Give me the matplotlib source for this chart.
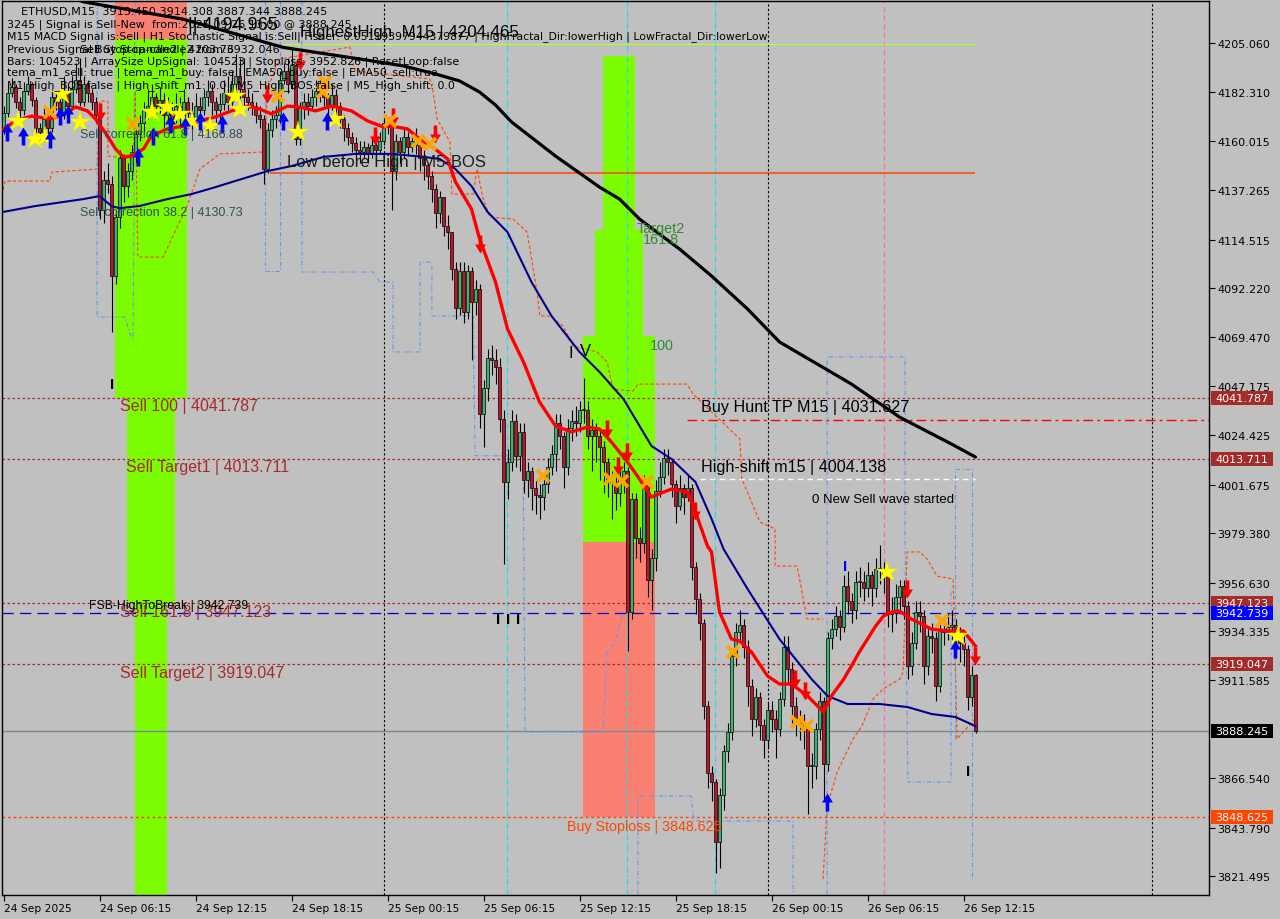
import numpy as np
import matplotlib
matplotlib.use("Agg")
import matplotlib.pyplot as plt
from matplotlib.patches import Rectangle
from matplotlib.path import Path
from matplotlib.transforms import blended_transform_factory

BG = "#c0c0c0"
BULL = "#3cb371"
BEAR = "#c0142c"

# ---- ETHUSD M15 candles, bar 0 = 24 Sep 00:15 ... bar 243 = 26 Sep 13:00
first_open = 4166.0
closes = [
    4173, 4182, 4185, 4178, 4174, 4183, 4186, 4179, 4166, 4164,
    4170, 4166, 4180, 4178, 4172, 4182, 4176, 4184, 4188, 4178,
    4186, 4182, 4178, 4172, 4128, 4142, 4140, 4098, 4125, 4152,
    4139, 4146, 4155, 4163, 4168, 4174, 4176, 4180, 4176, 4179,
    4172, 4174, 4170, 4176, 4171, 4178, 4173, 4170, 4176, 4174,
    4180, 4183, 4178, 4174, 4177, 4182, 4178, 4186, 4190, 4184,
    4180, 4178, 4176, 4172, 4170, 4147, 4165, 4170, 4172, 4188,
    4192, 4186, 4195, 4161, 4175, 4178, 4176, 4180, 4183, 4182,
    4180, 4176, 4181, 4176, 4170, 4166, 4162, 4159, 4156, 4155,
    4157, 4154, 4158, 4156, 4160, 4168, 4167, 4146, 4160, 4155,
    4162, 4157, 4160, 4158, 4152, 4149, 4144, 4138, 4127, 4134,
    4121, 4118, 4101, 4083, 4100, 4081, 4100, 4086, 4092, 4034,
    4046, 4060, 4059, 4056, 4032, 4003, 4012, 4031, 4015, 4026,
    4004, 4008, 4000, 3997, 3996, 4002, 4010, 4016, 4030, 4024,
    4010, 4028, 4031, 4030, 4036, 4036, 4024, 4027, 4024, 4019,
    4012, 4004, 4003, 3998, 4004, 4008, 3943, 3995, 3977, 3975,
    4002, 3958, 3968, 3999, 4005, 4014, 4012, 4002, 3992, 4000,
    3996, 4000, 3964, 3949, 3938, 3900, 3869, 3865, 3837, 3859,
    3879, 3888, 3923, 3934, 3937, 3927, 3909, 3894, 3904, 3891,
    3884, 3898, 3894, 3889, 3903, 3927, 3917, 3900, 3894, 3891,
    3889, 3872, 3872, 3889, 3902, 3873, 3931, 3935, 3941, 3936,
    3955, 3948, 3944, 3957, 3957, 3954, 3960, 3954, 3963, 3963,
    3960, 3942, 3943, 3950, 3955, 3946, 3918, 3929, 3943, 3941,
    3918, 3932, 3931, 3909, 3935, 3934, 3936, 3937, 3931, 3929,
    3926, 3904, 3914, 3888.245,
]
highs = [
    4176, 4186, 4189, 4186, 4180, 4187, 4190, 4187, 4180, 4168,
    4176, 4174, 4184, 4183, 4180, 4190, 4186, 4190, 4196, 4198,
    4190, 4188, 4184, 4180, 4174, 4146, 4150, 4144, 4128, 4156,
    4154, 4150, 4158, 4166, 4172, 4178, 4184, 4186, 4182, 4185,
    4182, 4180, 4178, 4182, 4180, 4184, 4180, 4178, 4182, 4180,
    4184, 4188, 4186, 4180, 4182, 4188, 4190, 4192, 4200, 4198,
    4198, 4184, 4182, 4178, 4176, 4172, 4168, 4174, 4176, 4192,
    4196, 4198, 4203, 4196, 4178, 4182, 4182, 4184, 4188, 4188,
    4186, 4182, 4186, 4184, 4178, 4172, 4168, 4164, 4162, 4160,
    4160, 4159, 4162, 4161, 4164, 4172, 4171, 4168, 4163, 4162,
    4166, 4164, 4164, 4166, 4160, 4156, 4150, 4146, 4140, 4137,
    4134, 4126, 4118, 4104, 4104, 4104, 4103, 4102, 4096, 4094,
    4050, 4064, 4066, 4064, 4060, 4036, 4018, 4036, 4034, 4030,
    4030, 4012, 4010, 4004, 4002, 4006, 4014, 4020, 4034, 4034,
    4026, 4032, 4036, 4038, 4040, 4051, 4040, 4032, 4030, 4028,
    4022, 4014, 4008, 4006, 4010, 4012, 4010, 3998, 3998, 3982,
    4006, 4004, 3972, 4004, 4012, 4018, 4018, 4014, 4004, 4006,
    4002, 4006, 4002, 3966, 3952, 3940, 3902, 3872, 3866, 3862,
    3882, 3892, 3926, 3938, 3944, 3940, 3930, 3912, 3908, 3906,
    3894, 3902, 3902, 3898, 3906, 3932, 3932, 3920, 3904, 3898,
    3896, 3892, 3878, 3892, 3906, 3904, 3934, 3940, 3946, 3944,
    3960, 3962, 3952, 3962, 3964, 3962, 3966, 3962, 3968, 3974,
    3966, 3962, 3950, 3956, 3958, 3958, 3948, 3934, 3948, 3948,
    3944, 3936, 3938, 3934, 3940, 3940, 3942, 3944, 3940, 3936,
    3932, 3928, 3918, 3914.308,
]
lows = [
    4163, 4171, 4180, 4175, 4170, 4172, 4181, 4176, 4162, 4158,
    4160, 4162, 4164, 4174, 4168, 4170, 4172, 4174, 4182, 4176,
    4176, 4178, 4174, 4168, 4124, 4122, 4136, 4072, 4094, 4120,
    4132, 4134, 4142, 4150, 4160, 4164, 4170, 4172, 4170, 4172,
    4166, 4168, 4164, 4168, 4166, 4168, 4166, 4164, 4168, 4166,
    4172, 4176, 4172, 4168, 4170, 4174, 4174, 4176, 4182, 4176,
    4176, 4174, 4172, 4168, 4166, 4140, 4145, 4162, 4166, 4168,
    4186, 4182, 4184, 4158, 4158, 4170, 4172, 4174, 4176, 4178,
    4176, 4172, 4174, 4172, 4166, 4160, 4158, 4155, 4152, 4150,
    4152, 4150, 4152, 4151, 4154, 4158, 4163, 4128, 4142, 4150,
    4152, 4153, 4155, 4154, 4146, 4142, 4138, 4132, 4120, 4122,
    4116, 4110, 4096, 4078, 4080, 4076, 4078, 4059, 4080, 4028,
    4019, 4040, 4052, 4048, 4026, 3965, 3995, 4008, 4010, 4008,
    3998, 3996, 3990, 3988, 3986, 3990, 3998, 4006, 4008, 4018,
    4000, 4006, 4022, 4024, 4026, 4030, 4018, 4008, 4012, 4004,
    3998, 3996, 3986, 3990, 3992, 3998, 3925, 3940, 3968, 3966,
    3970, 3950, 3944, 3962, 3996, 4002, 4006, 3996, 3984, 3990,
    3988, 3994, 3958, 3942, 3930, 3894, 3862, 3856, 3823, 3825,
    3852, 3874, 3884, 3918, 3930, 3922, 3900, 3886, 3890, 3884,
    3876, 3880, 3888, 3876, 3886, 3900, 3910, 3892, 3886, 3884,
    3880, 3850, 3862, 3866, 3884, 3856, 3870, 3926, 3932, 3930,
    3934, 3942, 3938, 3940, 3950, 3948, 3950, 3946, 3950, 3956,
    3952, 3936, 3934, 3938, 3944, 3940, 3912, 3914, 3926, 3934,
    3910, 3914, 3924, 3902, 3906, 3928, 3930, 3930, 3926, 3920,
    3918, 3898, 3900, 3887.344,
]

# ---- moving averages as (bar, price) knots
red_bars = [0, 3, 7, 12, 16, 18, 21, 23, 26, 28, 30, 32, 35, 37, 41, 45, 49, 53, 57, 61,
            64, 67, 71, 74, 78, 82, 87, 91, 95, 97, 101, 104, 107, 111, 113, 117, 119, 123,
            126, 130, 134, 138, 142, 146, 149, 152, 156, 159, 162, 167, 171, 173, 176, 177,
            179, 182, 184, 187, 191, 194, 197, 201, 205, 207, 210, 212, 214, 216, 218, 220,
            222, 224, 227, 232, 236, 240, 243]
red_vals = [4165.5, 4169.2, 4171.4, 4170.1, 4173.3, 4175.6, 4173.8, 4170.1, 4162.3, 4156.3,
            4152.6, 4153.0, 4156.3, 4162.3, 4165.5, 4166.8, 4169.2, 4171.0, 4173.8, 4176.0,
            4174.7, 4172.4, 4176.0, 4175.6, 4173.8, 4176.0, 4173.8, 4169.2, 4166.4, 4166.8,
            4165.5, 4160.9, 4157.6, 4151.7, 4141.1, 4128.6, 4115.0, 4095.0, 4073.4, 4058.2,
            4039.8, 4028.7, 4026.0, 4028.2, 4027.3, 4021.3, 4012.1, 4004.3, 3996.0, 3999.7,
            3998.3, 3989.1, 3973.4, 3970.7, 3943.1, 3930.6, 3929.7, 3924.6, 3913.6, 3909.9,
            3909.9, 3904.4, 3897.0, 3904.4, 3912.0, 3918.2, 3924.8, 3930.6, 3936.5, 3941.2,
            3943.0, 3943.5, 3939.8, 3935.2, 3934.3, 3934.3, 3927.4]
blue_bars = [0, 8, 20, 24, 27, 29, 34, 41, 47, 53, 57, 62, 66, 72, 80, 88, 97, 103, 109,
             113, 117, 121, 126, 132, 137, 144, 149, 155, 162, 167, 173, 177, 180, 186, 194,
             202, 206, 211, 219, 226, 232, 238, 243]
blue_vals = [4127.3, 4130.0, 4133.2, 4134.6, 4130.0, 4129.0, 4130.0, 4133.2, 4135.5, 4138.7,
             4141.0, 4143.8, 4146.1, 4148.4, 4152.6, 4154.0, 4154.0, 4153.0, 4151.7, 4147.0,
             4139.2, 4127.3, 4118.0, 4095.0, 4079.4, 4062.8, 4053.6, 4041.1, 4019.5, 4013.5,
             4002.9, 3986.0, 3972.1, 3953.7, 3930.6, 3912.2, 3904.4, 3900.7, 3900.7, 3899.3,
             3896.1, 3894.7, 3890.5]
black_bars = [14, 20, 45, 70, 88, 100, 108, 114, 119, 123, 127, 138, 149, 154, 159, 169, 177,
              186, 194, 212, 224, 237, 243]
black_vals = [4228.0, 4224.0, 4216.0, 4203.0, 4198.0, 4194.5, 4190.8, 4187.6, 4182.5, 4176.5,
              4168.7, 4153.0, 4138.7, 4133.2, 4124.0, 4110.2, 4097.8, 4082.6, 4067.4, 4048.0,
              4032.8, 4020.4, 4014.4]

# ---- trailing stop style step lines (orange dashed), (bar, price) knots
orange_up_bars = [-1, 0.4, 11.6, 12.1, 23.4, 24.1, 26.1, 26.1, 32.4, 32.9, 33.6, 39.9, 45.9,
                  49.1, 54.1, 65.4, 65.9, 69.1, 86.6, 87.9, 106.6, 107.4, 108.4, 111.6, 112.1,
                  117.4, 118.4, 119.9, 121.6, 127.4, 130.9, 133.4, 134.1, 136.6, 139.9, 142.4,
                  148.4, 150.9, 152.4, 157.4, 158.6, 170.9, 172.4, 184.1, 184.6, 189.1, 192.9,
                  192.9, 198.4, 200.9, 204.9]
orange_up_vals = [4130, 4141.5, 4141.5, 4145.6, 4147, 4178.3, 4178.3, 4153, 4151.7, 4183,
                  4106.5, 4106.5, 4130, 4147, 4154, 4154.9, 4183.9, 4197.7, 4203.2, 4192.2,
                  4188.5, 4182.5, 4170.1, 4159.5, 4135.5, 4135.5, 4147, 4133.2, 4124.9, 4124,
                  4118, 4090.4, 4079.4, 4079.4, 4074.7, 4065.5, 4062.8, 4058.2, 4045.7, 4044.8,
                  4048, 4048, 4043.4, 4022.7, 4004.3, 3984.5, 3981.3, 3964.2, 3964.2, 3939.8,
                  3939.8]
orange_lo_bars = [204.9, 205.9, 208.4, 212.4, 214.6, 217.4, 219.9, 224.1, 224.9, 225.9,
                  229.1, 230.9, 233.4, 237.4, 238.4, 242.9]
orange_lo_vals = [3820.1, 3853.7, 3869.4, 3884.6, 3890.6, 3903, 3907.6, 3912.2, 3915.4, 3970.7,
                  3970.7, 3967.5, 3959.6, 3958.3, 3884.6, 3893.8]

# ---- blue dash-dot boxes
b1_bars = [23.4, 23.4, 30.4, 31.6, 32.4, 32.9]
b1_vals = [4224.4, 4078.9, 4078.9, 4071.1, 4068.8, 4224.4]
b2_bars = [65.4, 65.4, 69.1, 69.1]
b2_vals = [4224.4, 4100.1, 4100.1, 4224.4]
b3_bars = [74.6, 74.6, 92.4, 94.1, 97.4, 97.4, 104.1, 104.1, 107.1, 107.1, 117.4, 117.9,
           129.9, 130.4, 149.9, 150.9, 152.9, 154.9]
b3_vals = [4224.4, 4099.6, 4099.6, 4095, 4095, 4062.8, 4062.8, 4104.2, 4104.2, 4079.4,
           4079.4, 4015, 4015, 3887.8, 3887.8, 3924.6, 3929, 3943]
b4_bars = [158.6, 158.6, 171.9, 172.6, 197.4, 197.4]
b4_vals = [3812.7, 3858.3, 3858.3, 3846.8, 3846.8, 3812.7]
b5_bars = [205.9, 205.9, 225.4, 225.4, 226.1, 236.9, 236.9]
b5_vals = [3812.7, 4060.5, 4060.5, 3970.7, 3864.8, 3864.8, 3953.7]
b6_bars = [237.9, 237.9, 242.1, 242.1]
b6_vals = [3884.6, 4008.9, 4008.9, 3820.1]

# ---- fibo columns: (left bar, right bar, low price, high price, colour)
columns = [
    (27.875, 45.875, 4206.9, 4224.4, "#fa8072"),
    (27.875, 45.875, 4041.787, 4206.9, "#7cfc00"),
    (30.875, 42.875, 3947.123, 4041.787, "#7cfc00"),
    (32.875, 40.875, 3812.7, 3947.123, "#7cfc00"),
    (149.875, 157.875, 4118.9, 4199.1, "#7cfc00"),
    (147.875, 159.875, 4070.1, 4118.9, "#7cfc00"),
    (144.875, 162.875, 3975.3, 4070.1, "#7cfc00"),
    (144.875, 162.875, 3848.625, 3975.3, "#fa8072"),
]

# ---- signal markers (bar, price)
star_bars = [3.6, 7.9, 10.4, 14.6, 19.1, 37.1, 40.9, 44.1, 47.1, 51.6, 57.9, 59.1, 73.6, 82.9, 220.9, 238.6]
star_vals = [4169.2, 4160.9, 4161.8, 4181.6, 4168.7, 4173.3, 4175.6, 4172.4, 4169.2, 4166.8,
             4180.7, 4174.7, 4164.1, 4170.1, 3961.5, 3932.0]
up_bars = [0.9, 4.9, 11.6, 14.1, 16.1, 33.6, 37.4, 41.6, 45.4, 49.1, 54.6, 69.9, 80.9, 205.9, 237.9]
up_vals = [4164.1, 4162.3, 4160.9, 4171.4, 4172.4, 4152.6, 4162.3, 4167.8, 4166.8, 4169.2,
           4167.8, 4169.2, 4169.2, 3855.5, 3926.0]
down_bars = [24.1, 65.9, 74.1, 92.9, 97.4, 107.9, 119.1, 150.9, 155.9, 153.6, 172.9, 197.9, 200.4, 225.9, 242.9]
down_vals = [4173.3, 4181.6, 4196.8, 4162.3, 4171.0, 4163.2, 4112.5, 4027.3, 4016.7, 4010.3,
             3989.6, 3912.2, 3906.7, 3953.7, 3922.8]
cross_bars = [11.6, 32.4, 68.6, 79.9, 80.4, 96.6, 103.6, 106.6, 134.9, 151.6, 154.6, 160.9, 182.4, 198.4, 200.9, 234.6]
cross_vals = [4173.3, 4167.8, 4180.7, 4182.5, 4187.1, 4169.2, 4159.9, 4158.6, 4005.7, 4004.3,
              4003.4, 4002.9, 3924.6, 3892.4, 3890.6, 3938.9]

# ---- axis labels
price_ticks = [4205.060, 4182.310, 4160.015, 4137.265, 4114.515, 4092.220, 4069.470, 4047.175,
               4024.425, 4001.675, 3979.380, 3956.630, 3934.335, 3911.585, 3866.540, 3843.790,
               3821.495]
date_bars = [0, 24, 48, 72, 96, 120, 144, 168, 192, 216, 240]
date_labels = ["24 Sep 2025", "24 Sep 06:15", "24 Sep 12:15", "24 Sep 18:15", "25 Sep 00:15",
               "25 Sep 06:15", "25 Sep 12:15", "25 Sep 18:15", "26 Sep 00:15", "26 Sep 06:15",
               "26 Sep 12:15"]
day_sep_bars = [95, 191, 287]

# price levels and the boxes on the price scale
level_prices = [4041.787, 4013.711, 3947.123, 3942.739, 3919.047, 3888.245, 3848.625]
level_colors = ["#a52a2a", "#a52a2a", "#a52a2a", "#0000ff", "#a52a2a", "#000000", "#ff4500"]

# ------------------------------------------------------------------
fig = plt.figure(figsize=(12.8, 9.2), dpi=100, facecolor=BG)
ax = fig.add_axes([2 / 1280, 24 / 920, 1207 / 1280, 894 / 920], facecolor=BG)
ax.set_xlim(-0.375, 301.375)
ax.set_ylim(3812.746, 4224.40)
for s in ax.spines.values():
    s.set_color("black")
    s.set_linewidth(1.0)


def ftext(px, py, s, **kw):
    fig.text(px / 1280, 1 - py / 920, s, va="center", ha="left", **kw)


# fibo columns
for x0, x1, y0, y1, col in columns:
    ax.add_patch(Rectangle((x0, y0), x1 - x0, y1 - y0, facecolor=col, edgecolor="none", zorder=1))

# vertical separators
for b in day_sep_bars:
    ax.axvline(b, color="black", lw=0.8, ls=(0, (2, 2)), zorder=2)
for b in [125.9, 155.9, 177.9]:
    ax.axvline(b, color="#00e5ee", lw=0.8, ls=(0, (5, 2, 1, 2)), zorder=2)
ax.axvline(220.1, color="#ff69b4", lw=0.9, ls=(0, (4, 3)), zorder=2)

# horizontal levels
ax.axhline(4041.787, color="#a52a2a", lw=0.9, ls=(0, (2, 2)), zorder=2)
ax.axhline(4013.711, color="#a52a2a", lw=0.9, ls=(0, (2, 2)), zorder=2)
ax.axhline(3947.123, color="#a52a2a", lw=0.9, ls=(0, (2, 2)), zorder=2)
ax.axhline(3919.047, color="#a52a2a", lw=0.9, ls=(0, (2, 2)), zorder=2)
ax.axhline(3942.739, color="#0000cd", lw=0.9, ls=(0, (9, 5)), zorder=2)
ax.axhline(3888.245, color="#778899", lw=1.0, zorder=2)
ax.axhline(3848.625, color="#ff4500", lw=1.0, ls=(0, (2, 2)), zorder=2)
ax.hlines(4204.465, 69.9, 242.9, color="#adff2f", lw=0.9, zorder=2)
ax.hlines(4145.2, 66.6, 242.9, color="#ff4500", lw=1.1, zorder=2)
ax.hlines(4031.627, 170.9, 301.4, color="#ff0000", lw=1.0, ls=(0, (7, 3, 2, 3)), zorder=2)
ax.hlines(4004.138, 174.1, 242.9, color="white", lw=1.0, ls=(0, (4, 3)), zorder=2)

# step lines
ax.plot(orange_up_bars, orange_up_vals, color="#ff4500", lw=0.8, ls=(0, (3, 2)), zorder=2)
ax.plot(orange_lo_bars, orange_lo_vals, color="#ff4500", lw=0.8, ls=(0, (3, 2)), zorder=2)
for bb, vv in [(b1_bars, b1_vals), (b2_bars, b2_vals), (b3_bars, b3_vals),
               (b4_bars, b4_vals), (b5_bars, b5_vals), (b6_bars, b6_vals)]:
    ax.plot(bb, vv, color="#6495ed", lw=0.8, ls=(0, (4, 2, 1, 2)), zorder=2)

# candles
c = np.array(closes, dtype=float)
o = np.r_[first_open, c[:-1]]
h = np.maximum(np.array(highs, dtype=float), np.maximum(o, c))
lo = np.minimum(np.array(lows, dtype=float), np.minimum(o, c))
x = np.arange(len(c))
up = c >= o
ax.vlines(x, lo, h, color="black", lw=0.8, zorder=3)
body = np.maximum(np.abs(c - o), 0.5)
bottom = np.minimum(o, c)
ax.bar(x[up], body[up], bottom=bottom[up], width=0.72, color=BULL, edgecolor="black",
       linewidth=0.5, zorder=4)
ax.bar(x[~up], body[~up], bottom=bottom[~up], width=0.72, color=BEAR, edgecolor="black",
       linewidth=0.5, zorder=4)

# moving averages
ax.plot(black_bars, black_vals, color="black", lw=2.3, zorder=5, solid_capstyle="round")
ax.plot(blue_bars, blue_vals, color="#00008b", lw=1.5, zorder=5)
ax.plot(red_bars, red_vals, color="#ff0000", lw=2.4, zorder=6, solid_joinstyle="round")

# signal markers
arrow_up = Path([(-0.2, -1), (0.2, -1), (0.2, 0.0), (0.6, 0.0), (0, 1), (-0.6, 0.0),
                 (-0.2, 0.0), (-0.2, -1)], closed=True)
arrow_dn = Path([(-0.2, 1), (0.2, 1), (0.2, 0.0), (0.6, 0.0), (0, -1), (-0.6, 0.0),
                 (-0.2, 0.0), (-0.2, 1)], closed=True)
ax.plot(star_bars, star_vals, ls="none", marker="*", ms=16, color="#ffff00", mec="#e8e800",
        mew=0.3, zorder=7)
ax.plot(up_bars, up_vals, ls="none", marker=arrow_up, ms=13, color="#0000ff", mew=0, zorder=7)
ax.plot(down_bars, down_vals, ls="none", marker=arrow_dn, ms=13, color="#ff0000", mew=0, zorder=7)
ax.plot(cross_bars, cross_vals, ls="none", marker="x", ms=8.5, color="#ffa500", mew=2.8, zorder=7)

# axes ticks
ax.yaxis.tick_right()
ax.set_yticks(price_ticks)
ax.set_yticklabels([f"{v:.3f}" for v in price_ticks])
ax.set_xticks(date_bars)
ax.set_xticklabels(date_labels, ha="left")
ax.tick_params(axis="y", direction="out", length=4, pad=2, labelsize=8.0, colors="black",
               labelfontfamily="DejaVu Sans")
ax.tick_params(axis="x", direction="out", length=4, pad=2, labelsize=7.7, colors="black",
               labelfontfamily="DejaVu Sans")

# level boxes on the price scale
tr = blended_transform_factory(ax.transAxes, ax.transData)
box_h = 14 / 2.17173
for p, col in zip(level_prices, level_colors):
    ax.add_patch(Rectangle((1 + 2 / 1207, p - box_h / 2), 62 / 1207, box_h, transform=tr,
                           facecolor=col, edgecolor="none", clip_on=False, zorder=8))
    ax.text(1 + 6 / 1207, p, f"{p:.3f}", transform=tr, ha="left", va="center",
            fontsize=8.0, color="white", family="DejaVu Sans", clip_on=False, zorder=9)

# chart object labels
sans = "Liberation Sans"
ftext(120, 407, "Sell 100 | 4041.787", color="#a52a2a", fontsize=11.5, family=sans)
ftext(126, 468, "Sell Target1 | 4013.711", color="#a52a2a", fontsize=11.5, family=sans)
ftext(120, 613, "Sell 161.8 | 3947.123", color="#a52a2a", fontsize=11.5, family=sans)
ftext(120, 674, "Sell Target2 | 3919.047", color="#a52a2a", fontsize=11.5, family=sans)
ftext(89, 606, "FSB-HighToBreak | 3942.739", color="black", fontsize=8.8, family=sans)
ftext(567, 827, "Buy Stoploss | 3848.625", color="#ff4500", fontsize=10.3, family=sans)
ftext(701, 408, "Buy Hunt TP M15 | 4031.627", color="black", fontsize=11.6, family=sans)
ftext(701, 468, "High-shift m15 | 4004.138", color="black", fontsize=11.6, family=sans)
ftext(812, 500, "0 New Sell wave started", color="black", fontsize=9.5, family=sans)
ftext(287, 162, "Low before High | M5-BOS", color="#1a1a1a", fontsize=12, family=sans)
ftext(80, 135, "Sell correction 61.8 | 4166.88", color="#2f4f4f", fontsize=9.0, family=sans)
ftext(80, 213, "Sell correction 38.2 | 4130.73", color="#2f4f4f", fontsize=9.0, family=sans)
ftext(637, 229, "Target2", color="#2e8b2e", fontsize=10.4, family=sans)
ftext(643, 240, "161.8", color="#2e8b2e", fontsize=10.4, family=sans)
ftext(650, 346, "100", color="#2e8b2e", fontsize=10.4, family=sans)
ftext(568, 354, "I", color="black", fontsize=12, family=sans)
ftext(580, 352, "V", color="black", fontsize=12, family=sans)
ftext(110, 385, "I", color="black", fontsize=11, family=sans, fontweight="bold")
for px in (496, 506, 516):
    ftext(px, 620, "I", color="black", fontsize=11, family=sans, fontweight="bold")
ftext(843, 567, "I", color="#0000ff", fontsize=11, family=sans, fontweight="bold")
ftext(966, 772, "I", color="black", fontsize=11, family=sans, fontweight="bold")

# top-left info block (the indicator prints these lines on top of each other)
info = "DejaVu Sans"
ftext(21, 12, "ETHUSD,M15  3913.450 3914.308 3887.344 3888.245", color="black", fontsize=8.1, family=info)
ftext(7, 25, "3245 | Signal is Sell-New  from:2025.09.26 13:00 @ 3888.245", color="black", fontsize=8.0, family=info)
ftext(7, 37, "M15 MACD Signal is:Sell | H1 Stochastic Signal is:Sell| Fisher: 0.05119397944379877 | "
             "HighFractal_Dir:lowerHigh | LowFractal_Dir:lowerLow", color="black", fontsize=7.85, family=info)
ftext(7, 50, "Previous Signal", color="black", fontsize=8.0, family=info)
ftext(80, 50, "Sell Stop-candle2 | 4203.76", color="black", fontsize=8.0, family=info)
ftext(95, 50, "Buy Stop-candle2 from:3932.046", color="black", fontsize=8.0, family=info)
ftext(7, 62, "Bars: 104523 | ArraySize UpSignal: 104523 | Stoploss: 3952.826 | ResetLoop:false",
      color="black", fontsize=7.9, family=info)
ftext(7, 73, "tema_m1_sell: true | tema_m1_buy: false | EMA50_buy:false | EMA50_sell:true",
      color="black", fontsize=7.9, family=info)
ftext(7, 86, "M1_High_BOS:false | High_shift_m1: 0.0 | M5_High_BOS:false | M5_High_shift: 0.0",
      color="black", fontsize=7.9, family=info)
ftext(188, 26, "|| 4194.965", color="black", fontsize=13, family=sans)
ftext(300, 32, "HighestHigh  M15 | 4204.465", color="black", fontsize=12.2, family=sans)

fig.savefig("out.png", dpi=100, facecolor=BG)
